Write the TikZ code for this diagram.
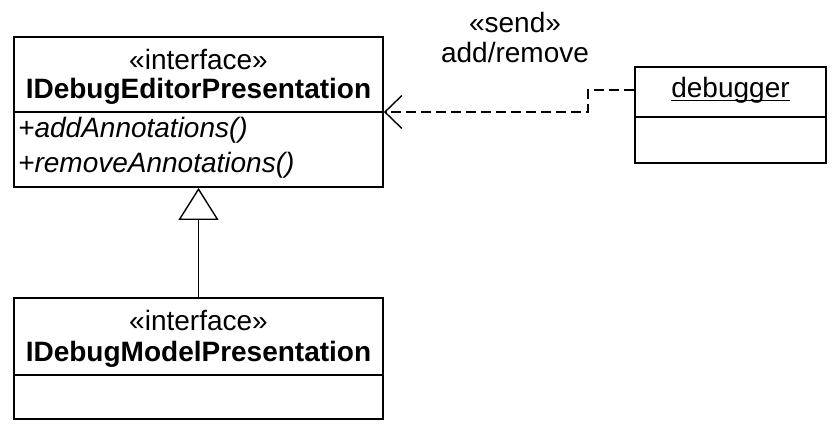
\documentclass[tikz,border=0pt]{standalone}
\usepackage{fontspec}
\setmainfont{Liberation Sans}
\usetikzlibrary{arrows.meta}
\begin{document}
\begin{tikzpicture}[x=1pt,y=-1pt,
  box/.style={draw, line width=1.8pt, inner sep=0pt},
  txt/.style={inner sep=0pt, font=\fontsize{28}{32}\selectfont},
  conn/.style={line width=1.4pt}]
\useasboundingbox (0,0) rectangle (834,424);
% top interface
\node[box, minimum width=369pt, minimum height=150pt] (ied) at (198.5,112) {};
\draw[line width=1.8pt] (ied.west) -- (ied.east);
\node[txt] (iedst) at (198.5,59) {«interface»};
\node[txt, font=\fontsize{28}{32}\selectfont\bfseries] (iedname) at (198.5,91) {IDebugEditorPresentation};
\node[txt, anchor=west, font=\fontsize{28}{32}\selectfont\itshape] (m1) at (18,130) {+addAnnotations()};
\node[txt, anchor=west, font=\fontsize{28}{32}\selectfont\itshape] (m2) at (18,165) {+removeAnnotations()};
% bottom interface
\node[box, minimum width=369pt, minimum height=121pt] (iem) at (198.5,358.5) {};
\draw[line width=1.8pt] (14,375) -- (383,375);
\node[txt] (iemst) at (198.5,320) {«interface»};
\node[txt, font=\fontsize{28}{32}\selectfont\bfseries] (iemname) at (198.5,354) {IDebugModelPresentation};
% debugger
\node[box, minimum width=191pt, minimum height=96pt] (dbg) at (730.5,115) {};
\draw[line width=1.8pt] (635,117) -- (826,117);
\node[txt] (dbgname) at (730.5,90) {debugger};
\draw[line width=1.4pt] ([yshift=-3pt]dbgname.base west) -- ([yshift=-3pt]dbgname.base east);
% labels
\node[txt] (lsend) at (515,22) {«send»};
\node[txt] (ladd) at (515,52) {add/remove};
% connectors
\coordinate (bend) at (588,90);
\draw[conn, dash pattern=on 10pt off 5pt, -{Straight Barb[length=17pt, width=33pt, line width=1.4pt]}]
  (dbg.west |- dbgname) -- (bend) |- (ied.east);
\draw[conn, -{Triangle[open, length=32pt, width=40pt, line width=1.4pt]}] (iem.north) -- (ied.south);
\end{tikzpicture}
\end{document}
